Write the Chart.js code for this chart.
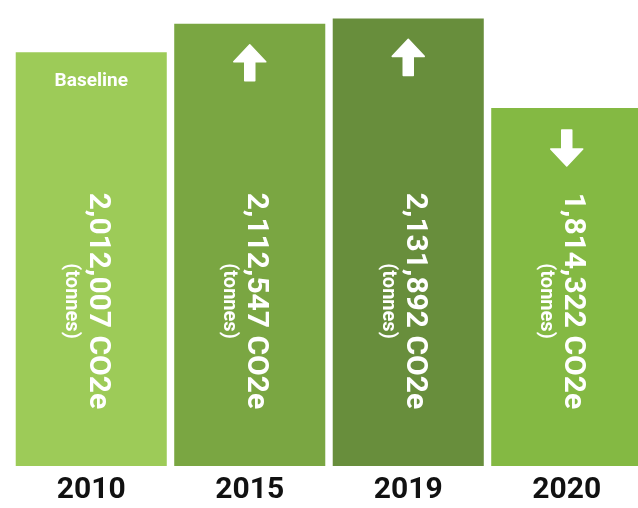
<!DOCTYPE html>
<html>
<head>
<meta charset="utf-8">
<script src="https://cdn.jsdelivr.net/npm/chart.js@4"></script>
<style>
    html, body { margin: 0; padding: 0; background: #fff; overflow: hidden; }
    .chartContainer { position: relative; width: 650px; height: 514px; }
</style>
</head>
<body>
<div class="chartContainer">
    <canvas id="chartContainer"></canvas>
</div>
<script>
const years = ["2010", "2015", "2019", "2020"];
const emissions = [2012007, 2112547, 2131892, 1814322]; // tonnes CO2e
const trend = ["baseline", "up", "up", "down"];
const barColors = ["#9dcb58", "#7aa642", "#688e3c", "#84b943"];

// white arrow, tip at (x, y), pointing up (dir -1) or down (dir 1)
function drawArrow(ctx, x, y, dir) {
    ctx.beginPath();
    ctx.moveTo(x, y);
    ctx.lineTo(x + 16, y - dir * 17);
    ctx.lineTo(x + 5, y - dir * 17);
    ctx.lineTo(x + 5, y - dir * 36);
    ctx.lineTo(x - 5, y - dir * 36);
    ctx.lineTo(x - 5, y - dir * 17);
    ctx.lineTo(x - 16, y - dir * 17);
    ctx.closePath();
    ctx.fill();
    ctx.stroke();
}

const barLabels = {
    id: "barLabels",
    afterDatasetsDraw(chart) {
        const ctx = chart.ctx;
        const meta = chart.getDatasetMeta(0);
        const midY = chart.chartArea.bottom - 165;
        ctx.save();
        ctx.fillStyle = "#fff";
        ctx.strokeStyle = "#fff";
        ctx.lineWidth = 1.5;
        ctx.lineJoin = "round";
        meta.data.forEach((bar, i) => {
            const x = bar.x;
            const top = bar.y;
            if (trend[i] === "baseline") {
                ctx.font = "bold 19px Roboto";
                ctx.textAlign = "center";
                ctx.textBaseline = "middle";
                ctx.fillText("Baseline", x, top + 29);
            } else if (trend[i] === "up") {
                drawArrow(ctx, x, top + 21, -1);
            } else {
                drawArrow(ctx, x, top + 58, 1);
            }

            ctx.save();
            ctx.translate(x - 1.5, midY);
            ctx.rotate(Math.PI / 2);
            ctx.textAlign = "center";
            ctx.textBaseline = "alphabetic";
            ctx.font = "bold 30px Roboto";
            ctx.fillText(emissions[i].toLocaleString("en-US") + " CO2e", 0, 0);
            ctx.font = "bold 20px Roboto";
            ctx.fillText("(tonnes)", 0, 24);
            ctx.restore();
        });
        ctx.restore();
    },
};

const ctx = document.getElementById("chartContainer");
new Chart(ctx, {
    type: "bar",
    data: {
        labels: years,
        datasets: [
            {
                data: emissions,
                backgroundColor: barColors,
                borderWidth: 0,
                barPercentage: 0.953,
                categoryPercentage: 1,
            },
        ],
    },
    options: {
        responsive: true,
        maintainAspectRatio: false,
        animation: false,
        layout: { padding: { left: 12, right: 4, top: 0, bottom: 0 } },
        plugins: {
            legend: { display: false },
            tooltip: { enabled: false },
        },
        scales: {
            x: {
                grid: { display: false, drawTicks: false },
                border: { display: false },
                ticks: {
                    color: "#111",
                    padding: 6,
                    font: { family: "Roboto", size: 30, weight: "bold" },
                },
            },
            y: {
                display: false,
                min: 546000,
                max: 2197000,
            },
        },
    },
    plugins: [barLabels],
});
</script>
</body>
</html>
